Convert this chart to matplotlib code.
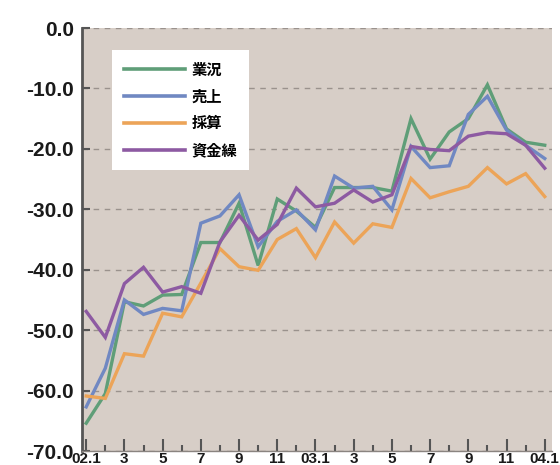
import matplotlib
matplotlib.use("Agg")
import matplotlib.pyplot as plt
from matplotlib.ticker import FixedLocator

months = list(range(25))
xtick_pos = [0, 2, 4, 6, 8, 10, 12, 14, 16, 18, 20, 22, 24]
xtick_labels = ['02.1', '3', '5', '7', '9', '11', '03.1', '3', '5', '7', '9', '11', '04.1']
ytick_pos = [0, -10, -20, -30, -40, -50, -60, -70]
ytick_labels = ['0.0', '-10.0', '-20.0', '-30.0', '-40.0', '-50.0', '-60.0', '-70.0']

gyoukyou = [-65.4, -60.5, -45.3, -46.0, -44.2, -44.1, -35.5, -35.5, -29.0, -39.3,
            -28.3, -30.3, -33.0, -26.4, -26.4, -26.4, -27.0, -15.0, -21.7, -17.2,
            -15.0, -9.4, -16.7, -18.9, -19.4]
uriage = [-62.7, -56.3, -45.0, -47.4, -46.4, -46.8, -32.3, -31.1, -27.6, -36.2,
          -32.0, -30.1, -33.4, -24.5, -26.5, -26.2, -30.1, -19.6, -23.1, -22.8,
          -14.3, -11.3, -16.9, -19.4, -21.6]
saisan = [-60.9, -61.3, -53.9, -54.3, -47.2, -47.8, -42.2, -36.5, -39.5, -40.1,
          -35.0, -33.2, -38.0, -32.1, -35.6, -32.4, -33.0, -24.9, -28.1, -27.1,
          -26.2, -23.1, -25.8, -24.1, -27.9]
shikinguri = [-46.9, -51.2, -42.3, -39.6, -43.7, -42.8, -43.9, -35.4, -31.0, -35.1,
              -32.5, -26.5, -29.6, -29.0, -26.8, -28.8, -27.6, -19.6, -20.1, -20.3,
              -17.9, -17.3, -17.5, -19.4, -23.2]

series_names = ['業況', '売上', '採算', '資金繰']
series_values = [gyoukyou, uriage, saisan, shikinguri]
colors = ['#5f9e78', '#7088c2', '#eca458', '#8d5aa2']

W, H = 560, 465
fig = plt.figure(figsize=(W / 100, H / 100), dpi=100)
fig.patch.set_facecolor('white')
ax = fig.add_axes([82 / W, 1 - 451 / H, (552 - 82) / W, (451 - 28) / H])
ax.set_facecolor('#d7cec7')

for name, vals, c in zip(series_names, series_values, colors):
    ax.plot(months, vals, color=c, lw=2.4, label=name, solid_joinstyle='miter', zorder=3)

ax.set_xlim(-0.22, 24.38)
ax.set_ylim(-70, 0)

ax.yaxis.grid(True, linestyle=(0, (4, 4)), color='#9a928d', lw=1.0)
ax.set_axisbelow(True)

ax.set_yticks(ytick_pos)
ax.set_yticklabels(ytick_labels, fontsize=15, fontweight='bold',
                   family=['Liberation Sans', 'DejaVu Sans'], color='#1a1a1a')
ax.set_xticks(xtick_pos)
ax.set_xticklabels(xtick_labels, fontsize=11, fontweight='bold',
                   family=['Liberation Sans', 'DejaVu Sans'], color='#1a1a1a')
ax.xaxis.set_minor_locator(FixedLocator([m for m in months if m % 2 == 1]))

ax.tick_params(axis='y', direction='in', length=6, width=1.5, color='#555555', pad=6)
ax.tick_params(axis='x', which='major', direction='in', length=9, width=1.5,
               color='#555555', pad=1)
ax.tick_params(axis='x', which='minor', direction='in', length=4, width=1.5,
               color='#555555')

for s in ['top', 'right']:
    ax.spines[s].set_visible(False)
ax.spines['left'].set_color('#555555')
ax.spines['left'].set_linewidth(2.0)
ax.spines['bottom'].set_color('#8a8480')
ax.spines['bottom'].set_linewidth(1.0)

leg = ax.legend(loc='upper left', bbox_to_anchor=(0.064, 0.948), frameon=True,
                fancybox=False, framealpha=1, facecolor='white', edgecolor='white',
                prop={'family': ['Noto Sans CJK JP', 'DejaVu Sans'], 'weight': 'bold', 'size': 11},
                handlelength=4.0, handletextpad=0.45, labelspacing=0.72,
                borderpad=0.75, borderaxespad=0)
leg.get_frame().set_linewidth(0)
for line in leg.get_lines():
    line.set_linewidth(2.6)
leg.set_zorder(5)

fig.savefig('out.png', dpi=100)
